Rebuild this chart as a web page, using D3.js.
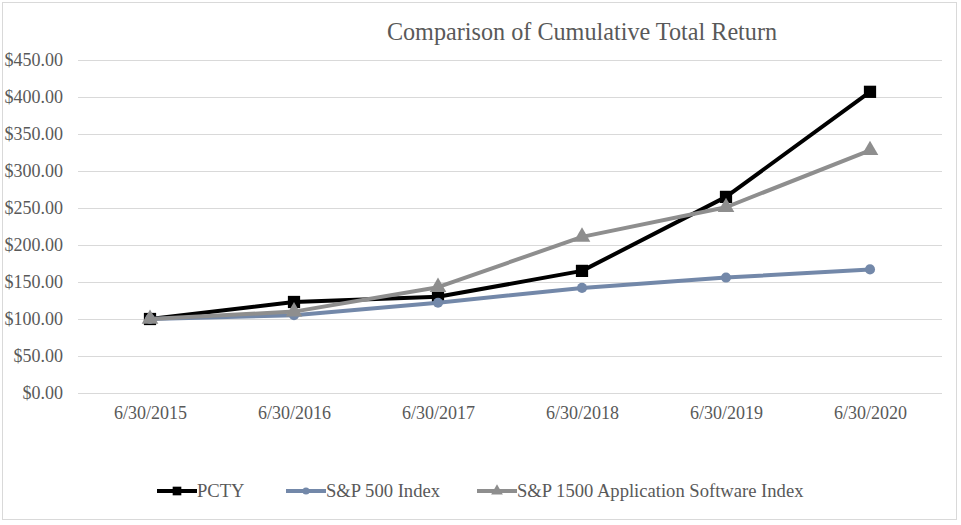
<!DOCTYPE html>
<html><head><meta charset="utf-8">
<script src="https://cdn.jsdelivr.net/npm/d3@7"></script>
<style>body{margin:0;background:#fff}svg{display:block}</style>
</head><body>
<svg id="c" width="961" height="525"></svg>
<script>
const categories = ["6/30/2015","6/30/2016","6/30/2017","6/30/2018","6/30/2019","6/30/2020"];
const pcty = [100, 123, 130, 165, 265, 407];
const sp500 = [100, 105, 122, 142, 156, 167];
const sp1500 = [100, 110, 143, 211, 251, 328];
const yTicks = [0,50,100,150,200,250,300,350,400,450];
const seriesNames = ["PCTY","S&P 500 Index","S&P 1500 Application Software Index"];

const svg = d3.select("#c");
const font = "'Liberation Serif','Times New Roman',serif";
svg.append("rect").attr("x",2.5).attr("y",2.5).attr("width",954).attr("height",517)
  .attr("fill","#fff").attr("stroke","#d9d9d9").attr("stroke-width",1);

const x = d3.scalePoint().domain(categories).range([150,870]);
const y = d3.scaleLinear().domain([0,450]).range([393,60]);

svg.append("text").attr("x",582).attr("y",40).attr("text-anchor","middle")
  .attr("font-family",font).attr("font-size",24.2).attr("fill","#595959")
  .text("Comparison of Cumulative Total Return");

const gy = svg.append("g").attr("transform","translate(78,0)")
  .call(d3.axisLeft(y).tickValues(yTicks).tickSize(-864).tickFormat(d=>"$"+d3.format(".2f")(d)).tickPadding(15));
gy.select(".domain").remove();
gy.selectAll("line").attr("stroke","#d9d9d9").attr("stroke-width",1);
gy.selectAll("text").attr("font-family",font).attr("font-size",18).attr("fill","#595959");

const gx = svg.append("g").attr("transform","translate(0,393)")
  .call(d3.axisBottom(x).tickSize(0).tickPadding(13));
gx.select(".domain").remove();
gx.selectAll("text").attr("font-family",font).attr("font-size",18).attr("fill","#595959");

const series = [
  {name:seriesNames[0], data:pcty, color:"#000000", marker:"square"},
  {name:seriesNames[1], data:sp500, color:"#7388a9", marker:"circle"},
  {name:seriesNames[2], data:sp1500, color:"#8e8e8e", marker:"triangle"}
];
const line = d3.line().x((d,i)=>x(categories[i])).y(d=>y(d));
const sym = {square:d3.symbolSquare, circle:d3.symbolCircle, triangle:d3.symbolTriangle};
const size = {square:150, circle:80, triangle:120};

series.forEach(s=>{
  svg.append("path").datum(s.data).attr("d",line).attr("fill","none")
    .attr("stroke",s.color).attr("stroke-width",4).attr("stroke-linejoin","round");
  svg.selectAll(null).data(s.data).enter().append("path")
    .attr("transform",(d,i)=>`translate(${x(categories[i])},${y(d)})`)
    .attr("d",d3.symbol().type(sym[s.marker]).size(size[s.marker])).attr("fill",s.color);
});

const legX = [157, 286, 477];
series.forEach((s,i)=>{
  const g = svg.append("g").attr("transform",`translate(${legX[i]},491)`);
  g.append("line").attr("x1",0).attr("x2",40).attr("stroke",s.color).attr("stroke-width",4);
  g.append("path").attr("transform","translate(20,0)")
    .attr("d",d3.symbol().type(sym[s.marker]).size(size[s.marker]*0.5)).attr("fill",s.color);
  g.append("text").attr("x",40).attr("y",6).attr("font-family",font).attr("font-size",18.6)
    .attr("fill","#595959").text(s.name);
});
</script>
</body></html>
